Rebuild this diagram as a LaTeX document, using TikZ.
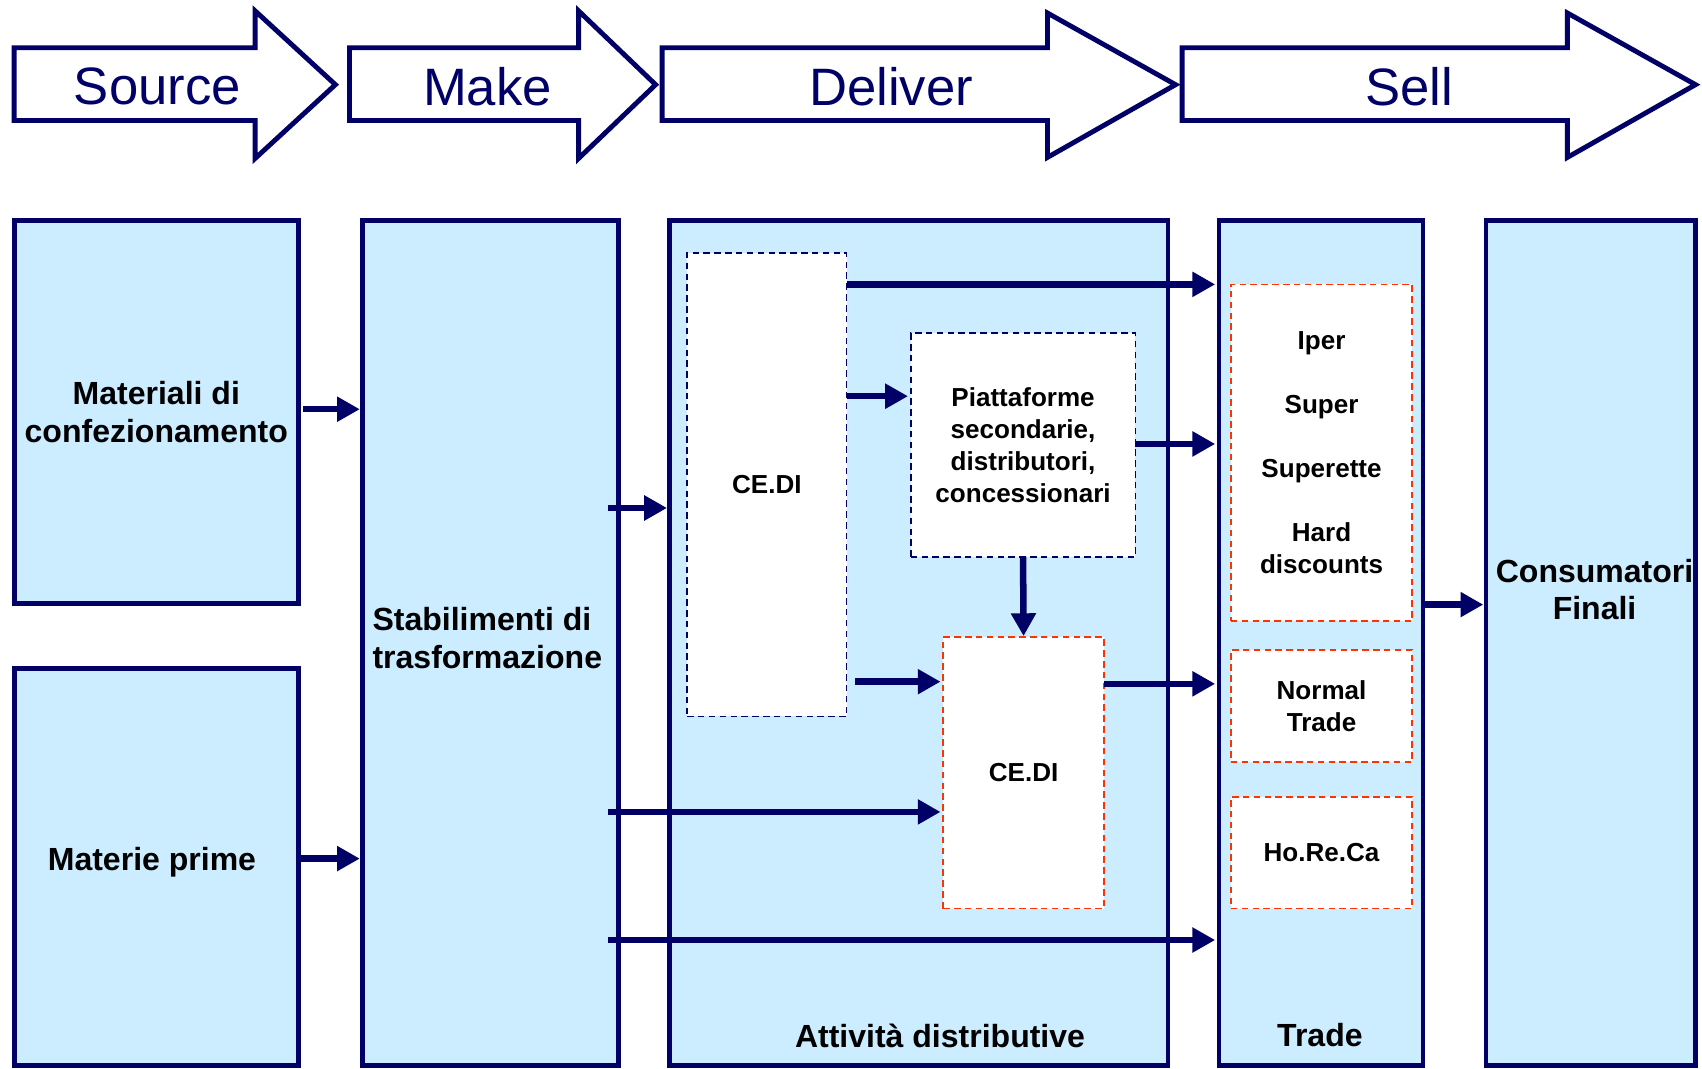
\documentclass[tikz,border=0pt]{standalone}
\usepackage{fontspec}
\setmainfont{Liberation Sans}
\usetikzlibrary{arrows.meta,calc}
\definecolor{navy}{RGB}{0,0,102}
\definecolor{lblue}{RGB}{204,236,255}
\definecolor{dred}{RGB}{255,51,0}
\begin{document}
\begin{tikzpicture}[x=1pt,y=-1pt,
  phase/.style={draw=navy, line width=4.5pt, fill=white, line join=miter},
  phasetxt/.style={text=navy, font=\fontsize{48.5}{50}\selectfont, inner sep=0pt},
  bigbox/.style={draw=navy, line width=4.5pt, fill=lblue, anchor=north west, inner sep=0pt, outer sep=0pt, align=center, font=\fontsize{29.5}{34.5}\selectfont\bfseries},
  bigtxt/.style={font=\fontsize{29.5}{34.5}\selectfont\bfseries, inner sep=0pt},
  navybox/.style={draw=navy, line width=1.5pt, dash pattern=on 6pt off 4pt, fill=white, anchor=north west, inner sep=0pt, outer sep=0pt, align=center, font=\fontsize{24}{29.5}\selectfont\bfseries},
  redbox/.style={navybox, draw=dred},
  conn/.style={draw=navy, line width=6pt, -{Triangle[length=21pt,width=22pt]}, shorten >=2.5pt}
]
\useasboundingbox (0,0) rectangle (1568,984);
% phase arrows
\draw[phase] (13,44) -- (235,44) -- (235,10) -- (309,78) -- (235,146) -- (235,111) -- (13,111) -- cycle;
\draw[phase] (322,44) -- (533,44) -- (533,10) -- (604,78) -- (533,146) -- (533,111) -- (322,111) -- cycle;
\draw[phase] (610,44) -- (965,44) -- (965,12) -- (1083,78) -- (965,145) -- (965,111) -- (610,111) -- cycle;
\draw[phase] (1089,44) -- (1444,44) -- (1444,12) -- (1562,78) -- (1444,145) -- (1444,111) -- (1089,111) -- cycle;
\node[phasetxt] (src) at (145,80) {Source};
\node[phasetxt] (mk) at (449,80) {Make};
\node[phasetxt] (dl) at (821,80) {Deliver};
\node[phasetxt] (sl) at (1298,80) {Sell};
% main boxes
\node[bigbox, minimum width=262pt, minimum height=353pt] (mat) at (13,203) {Materiali di\\confezionamento};
\node[bigbox, minimum width=262pt, minimum height=366pt] (mp) at (13,616) {};
\node[bigtxt] (mptxt) at (140,794) {Materie prime};
\node[bigbox, minimum width=236pt, minimum height=779pt] (stab) at (334,203) {};
\node[bigtxt, anchor=west, align=left] (stabtxt) at (343,588) {Stabilimenti di\\trasformazione};
\node[bigbox, minimum width=459pt, minimum height=779pt] (att) at (617,203) {};
\node[bigtxt] (atttxt) at (866,954) {Attività distributive};
\node[bigbox, minimum width=188pt, minimum height=779pt] (trade) at (1123,203) {};
\node[bigtxt] (tradetxt) at (1216,954) {Trade};
\node[bigbox, minimum width=193pt, minimum height=779pt] (cons) at (1369,203) {};
\node[bigtxt, align=center] (constxt) at (1469,543) {Consumatori\\Finali};
% inner boxes
\node[navybox, minimum width=147pt, minimum height=427pt] (cedi1) at (633,233) {CE.DI};
\node[navybox, minimum width=207pt, minimum height=206pt] (piatt) at (839,307) {Piattaforme\\secondarie,\\distributori,\\concessionari};
\node[redbox, minimum width=148pt, minimum height=250pt] (cedi2) at (869,587) {CE.DI};
\node[redbox, minimum width=167pt, minimum height=310pt] (iper) at (1134,262) {Iper\\[29.5pt]Super\\[29.5pt]Superette\\[29.5pt]Hard\\discounts};
\node[redbox, minimum width=167pt, minimum height=103pt] (normal) at (1134,599) {Normal\\Trade};
\node[redbox, minimum width=167pt, minimum height=103pt] (horeca) at (1134,734) {Ho.Re.Ca};
% connectors
\draw[conn, shorten <=4pt] (mat.east |- 0,377) -- (stab.west |- 0,377);
\draw[conn, shorten <=2pt] (mp.east |- 0,791) -- (stab.west |- 0,791);
\draw[conn] ($(stab.east |- 0,468)+(-10,0)$) -- (att.west |- 0,468);
\draw[conn, shorten >=3.5pt] (cedi1.east |- 0,262) -- (trade.west |- 0,262);
\draw[conn] (cedi1.east |- 0,365) -- (piatt.west |- 0,365);
\draw[conn, shorten >=3.5pt] (piatt.east |- 0,409) -- (trade.west |- 0,409);
\draw[conn, shorten >=1pt] (piatt.south) -- (cedi2.north);
\draw[conn] ($(cedi1.east |- 0,628)+(8,0)$) -- (cedi2.west |- 0,628);
\draw[conn] ($(stab.east |- 0,748)+(-10,0)$) -- (cedi2.west |- 0,748);
\draw[conn, shorten >=3.5pt] (cedi2.east |- 0,630) -- (trade.west |- 0,630);
\draw[conn, shorten >=3.5pt] ($(stab.east |- 0,866)+(-10,0)$) -- (trade.west |- 0,866);
\draw[conn, shorten <=2pt] (trade.east |- 0,557) -- (cons.west |- 0,557);
\end{tikzpicture}
\end{document}
